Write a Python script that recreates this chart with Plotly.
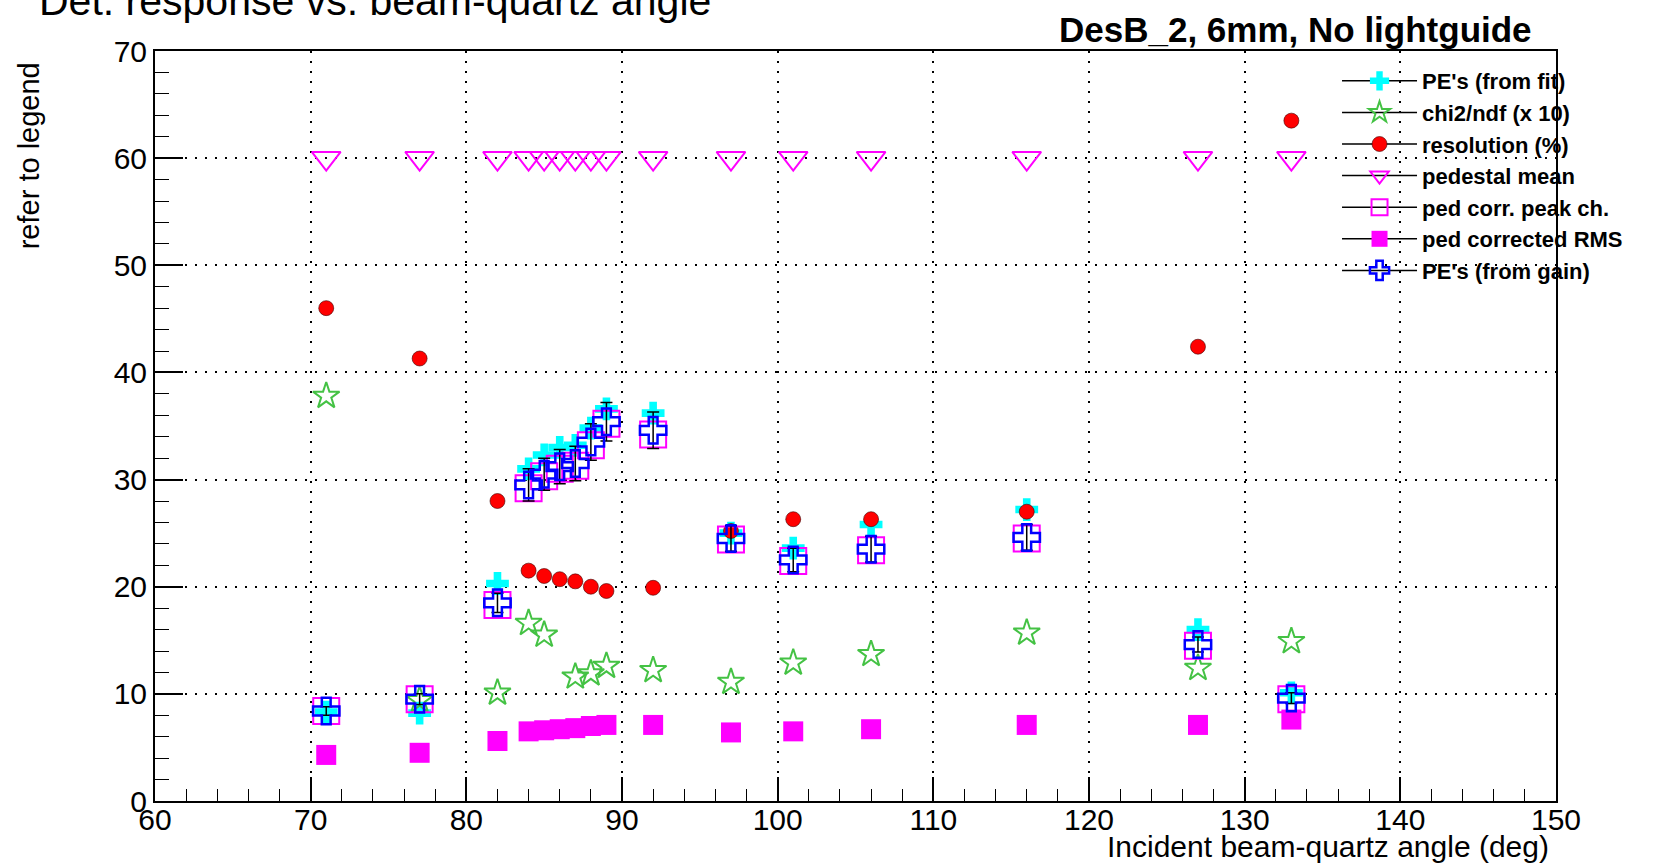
import plotly.graph_objects as go

# ---------------- data ----------------
angle = [71, 77, 82, 84, 85, 86, 87, 88, 89, 92, 97, 101, 106, 116, 127, 133]

pe_fit = [8.3, 8.2, 20.3, 31.0, 32.3, 33.0, 33.2, 34.8, 36.6, 36.2, 25.0, 23.6, 25.8, 27.2, 16.0, 10.1]
chi2_x10 = [37.8, 9.4, 10.1, 16.6, 15.5, None, 11.6, 11.9, 12.6, 12.2, 11.1, 12.9, 13.7, 15.7, 12.4, 14.9]
resolution = [46.0, 41.3, 28.0, 21.5, 21.0, 20.7, 20.5, 20.0, 19.6, 19.9, 25.2, 26.3, 26.3, 27.0, 42.4, 63.5]
ped_mean = [60.0, 60.0, 60.0, 60.0, 60.0, 60.0, 60.0, 60.0, 60.0, 60.0, 60.0, 60.0, 60.0, 60.0, 60.0, 60.0]
peak_ch = [8.4, 9.5, 18.3, 29.2, 30.3, 31.0, 31.3, 33.2, 35.2, 34.2, 24.4, 22.4, 23.4, 24.5, 14.5, 9.5]
rms = [4.3, 4.5, 5.6, 6.5, 6.6, 6.7, 6.8, 7.0, 7.1, 7.1, 6.4, 6.5, 6.7, 7.1, 7.1, 7.6]
pe_gain = [8.4, 9.5, 18.5, 29.5, 30.5, 31.2, 31.5, 33.5, 35.4, 34.6, 24.5, 22.5, 23.5, 24.6, 14.6, 9.6]
pe_gain_err = [0.4, 0.5, 0.9, 1.5, 1.5, 1.6, 1.6, 1.7, 1.8, 1.7, 1.2, 1.1, 1.2, 1.2, 0.7, 0.5]

legend_names = ["PE's (from fit)", "chi2/ndf (x 10)", "resolution (%)", "pedestal mean",
                "ped corr. peak ch.", "ped corrected RMS", "PE's (from gain)"]

x_ticks = [60, 70, 80, 90, 100, 110, 120, 130, 140, 150]
y_ticks = [0, 10, 20, 30, 40, 50, 60, 70]

title_text = "Det. response vs. beam-quartz angle"
subtitle_text = "DesB_2, 6mm, No lightguide"
x_title = "Incident beam-quartz angle (deg)"
y_title = "refer to legend"

# ---------------- styles ----------------
FONT = "Liberation Sans, Arial, Helvetica, sans-serif"
CYAN = "#00FFFF"
GREEN = "#44C244"
RED = "#FF0000"
MAG = "#FF00FF"
BLUE = "#0000FF"

series = [
    (pe_fit, dict(symbol="cross", color=CYAN, size=19), None),
    (chi2_x10, dict(symbol="star-open", color=GREEN, size=20, line=dict(color=GREEN, width=2)), None),
    (resolution, dict(symbol="circle", color=RED, size=15, line=dict(color="#400000", width=0.6)), None),
    (ped_mean, dict(symbol="triangle-down-open", color=MAG, size=25, line=dict(color=MAG, width=2)), None),
    (peak_ch, dict(symbol="square-open", color=MAG, size=26, line=dict(color=MAG, width=2)), None),
    (rms, dict(symbol="square", color=MAG, size=20), None),
    (pe_gain, dict(symbol="cross-open", color=BLUE, size=22, line=dict(color=BLUE, width=2.5)), pe_gain_err),
]

fig = go.Figure()

for (vals, mk, err), name in zip(series, legend_names):
    kw = {}
    if err is not None:
        kw["error_y"] = dict(type="data", array=err, visible=True, color="black",
                             thickness=1.5, width=6)
    fig.add_trace(go.Scatter(x=angle, y=vals, mode="markers", marker=mk, name=name,
                             showlegend=False, cliponaxis=False, **kw))

# legend entries (marker with black error-bar line, as in the original legend)
for (vals, mk, err), name in zip(series, legend_names):
    fig.add_trace(go.Scatter(x=[None], y=[None], mode="lines+markers", marker=mk,
                             line=dict(color="black", width=1.5), name=name, showlegend=True))

axis_common = dict(
    showline=True, linecolor="black", linewidth=2, mirror=True,
    ticks="inside", tickcolor="black", tickwidth=1.5,
    showgrid=True, gridcolor="black", gridwidth=1.5, griddash="2px,8px",
    zeroline=False,
    tickfont=dict(family=FONT, size=30, color="black"),
)

fig.update_xaxes(range=[60, 150], tickvals=x_ticks, ticklen=24, ticklabelstandoff=-9,
                 minor=dict(ticks="inside", dtick=2, tick0=60, ticklen=12,
                            tickcolor="black", tickwidth=1.2, showgrid=False),
                 **axis_common)
fig.update_yaxes(range=[0, 70], tickvals=y_ticks, ticklen=28,
                 minor=dict(ticks="inside", dtick=2, tick0=0, ticklen=14,
                            tickcolor="black", tickwidth=1.2, showgrid=False),
                 **axis_common)

annotations = [
    dict(text=title_text, xref="paper", yref="paper", x=-0.0842, y=1.067,
         xanchor="left", yanchor="middle", showarrow=False,
         font=dict(family=FONT, size=41, color="black")),
    dict(text="<b>" + subtitle_text + "</b>", xref="paper", yref="paper", x=0.9843, y=1.028,
         xanchor="right", yanchor="middle", showarrow=False,
         font=dict(family=FONT, size=35, color="black")),
    dict(text=x_title, xref="paper", yref="paper", x=0.9964, y=-0.061,
         xanchor="right", yanchor="middle", showarrow=False,
         font=dict(family=FONT, size=30, color="black")),
    dict(text=y_title, xref="paper", yref="paper", x=-0.0899, y=0.987,
         xanchor="center", yanchor="top", textangle=-90, showarrow=False,
         font=dict(family=FONT, size=29, color="black")),
]

fig.update_layout(
    width=1680, height=866,
    margin=dict(l=155, r=124, t=51, b=65),
    paper_bgcolor="white", plot_bgcolor="white",
    annotations=annotations,
    showlegend=True,
    legend=dict(x=0.8437, y=0.988, xanchor="left", yanchor="top",
                bgcolor="rgba(0,0,0,0)", borderwidth=0,
                itemwidth=75, tracegroupgap=0,
                font=dict(family=FONT, size=22, color="black", weight="bold")),
)

fig.write_html("out.html")
